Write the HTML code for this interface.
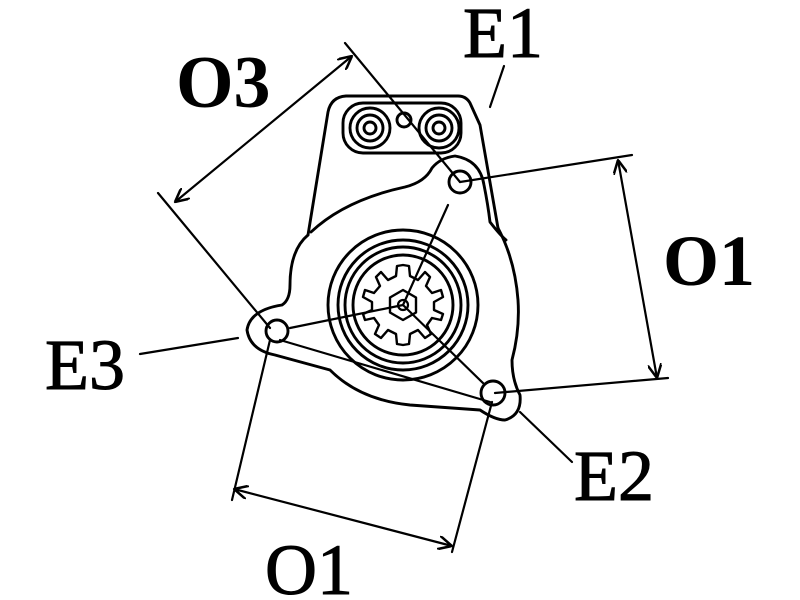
<!DOCTYPE html>
<html><head><meta charset="utf-8"><style>
html,body{margin:0;padding:0;background:#fff;}
svg{display:block}
text{font-family:"Liberation Serif",serif;fill:#000;}
</style></head><body>
<svg width="800" height="600" viewBox="0 0 800 600" xmlns="http://www.w3.org/2000/svg">
<defs>
<marker id="a" viewBox="0 0 10 10" refX="10" refY="5" markerWidth="14" markerHeight="14" orient="auto-start-reverse" markerUnits="userSpaceOnUse">
<path d="M0,0 L10,5 L0,10" fill="none" stroke="#000" stroke-width="1.8"/>
</marker>
</defs>
<g fill="none" stroke="#000" stroke-width="2.9" stroke-linecap="round" stroke-linejoin="round">
<path d="M308,235 L328,112 Q331,97 346,96 L458,96 Q466,96 470,103 L480,125 L498,228"/>
<rect x="343" y="103" width="118" height="50" rx="20"/>
<circle cx="370" cy="128" r="20"/><circle cx="370" cy="128" r="13"/><circle cx="370" cy="128" r="6"/>
<circle cx="439" cy="128" r="20"/><circle cx="439" cy="128" r="13"/><circle cx="439" cy="128" r="6"/>
<circle cx="404" cy="120" r="7"/>
<path d="M311,232 Q345,200 405,187 Q425,182 432,168 Q440,158 455,156 Q480,160 484,185 Q488,205 490,222 Q500,235 506,240"/>
<path d="M308,235 Q290,250 290,285 Q290,300 282,305 Q250,310 247,330 Q250,350 275,355 L330,370 Q360,400 410,405 L480,410 Q495,420 505,420 Q522,415 520,395 Q512,380 512,360 Q520,330 518,300 Q515,260 498,228"/>
<circle cx="277" cy="331" r="11"/>
<circle cx="460" cy="182" r="11"/>
<circle cx="493" cy="393" r="12"/>
<circle cx="403" cy="305" r="75"/><circle cx="403" cy="305" r="65"/><circle cx="403" cy="305" r="58"/><circle cx="403" cy="305" r="50"/>
<path d="M403,265 L409,266 L410,276 L418,280 L425,272 L430,277 L426,286 L432,293 L441,290 L443,297 L434,302 L434,310 L443,314 L441,320 L432,318 L427,325 L431,334 L425,338 L418,330 L410,334 L409,344 L403,345 L397,344 L396,334 L388,330 L381,338 L375,334 L379,325 L374,318 L365,320 L363,314 L372,310 L372,302 L363,297 L365,290 L374,293 L380,286 L376,277 L381,272 L388,280 L396,276 L397,266 Z" stroke-width="2.4"/>
<path d="M403,290 L416,297.5 L416,312.5 L403,320 L390,312.5 L390,297.5 Z" stroke-width="2.4"/>
<circle cx="403" cy="305" r="5" stroke-width="2.2"/>
</g>
<g fill="none" stroke="#000" stroke-width="2.2" stroke-linecap="round">
<line x1="403" y1="305" x2="448" y2="205"/>
<line x1="403" y1="305" x2="290" y2="328"/>
<line x1="403" y1="305" x2="484" y2="384"/>
<line x1="280" y1="340" x2="490" y2="402"/>
<line x1="345" y1="43" x2="460" y2="182"/>
<line x1="158" y1="193" x2="270" y2="328"/>
<line x1="175" y1="202" x2="352" y2="56" marker-start="url(#a)" marker-end="url(#a)"/>
<line x1="460" y1="182" x2="632" y2="155"/>
<line x1="495" y1="393" x2="668" y2="378"/>
<line x1="618" y1="160" x2="657" y2="378" marker-start="url(#a)" marker-end="url(#a)"/>
<line x1="270" y1="340" x2="232" y2="500"/>
<line x1="492" y1="402" x2="452" y2="552"/>
<line x1="234" y1="489" x2="452" y2="546" marker-start="url(#a)" marker-end="url(#a)"/>
<line x1="490" y1="107" x2="504" y2="66"/>
<line x1="140" y1="354" x2="238" y2="338"/>
<line x1="520" y1="412" x2="572" y2="462"/>
</g>
<g stroke="#000" stroke-width="1">
<text x="463" y="57" font-size="72">E1</text>
<text x="45" y="389" font-size="72">E3</text>
<text x="574" y="500" font-size="72">E2</text>
<text x="265" y="594" font-size="72">O1</text>
</g>
<text x="176" y="107" font-size="74" font-weight="bold">O3</text>
<text x="663" y="285" font-size="72" font-weight="bold">O1</text>
</svg>
</body></html>
